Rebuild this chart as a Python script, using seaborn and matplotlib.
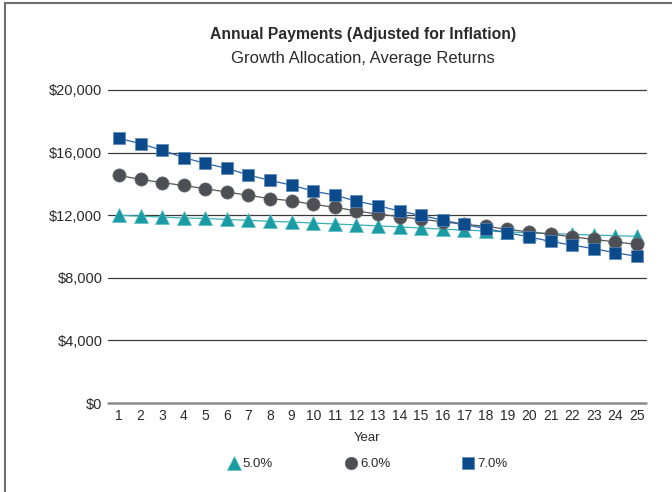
import matplotlib.pyplot as plt
import pandas as pd
import seaborn as sns
from matplotlib.lines import Line2D
from matplotlib.patches import Rectangle
from matplotlib.ticker import FuncFormatter


YEARS = list(range(1, 26))
RATE_5 = [11990, 11940, 11880, 11820, 11790, 11730, 11670, 11610, 11560, 11500,
          11440, 11380, 11320, 11250, 11180, 11110, 11050, 10990, 10930, 10880,
          10830, 10780, 10730, 10690, 10650]
RATE_6 = [14540, 14290, 14080, 13900, 13690, 13480, 13270, 13060, 12920, 12690,
          12510, 12270, 12070, 11910, 11740, 11580, 11420, 11290, 11100, 10930,
          10790, 10620, 10450, 10300, 10130]
RATE_7 = [16910, 16570, 16150, 15680, 15310, 14990, 14570, 14220, 13920, 13540,
          13280, 12900, 12610, 12260, 11990, 11680, 11410, 11140, 10880, 10620,
          10320, 10090, 9860, 9600, 9370]
RATE_LABELS = ["5.0%", "6.0%", "7.0%"]
Y_TICKS = [0, 4000, 8000, 12000, 16000, 20000]

TITLE = "Annual Payments (Adjusted for Inflation)"
SUBTITLE = "Growth Allocation, Average Returns"


def configure_style() -> None:
    sns.set_theme(style="white")
    plt.rcParams.update(
        {
            "font.size": 9.5,
            "xtick.labelsize": 10,
            "ytick.labelsize": 10.5,
            "text.color": "#2a2a2a",
            "xtick.color": "#2a2a2a",
            "ytick.color": "#2a2a2a",
        }
    )
    plt.rcParams["font.family"] = ["Liberation Sans", "DejaVu Sans"]


def main() -> None:
    configure_style()
    df = pd.DataFrame(
        {
            "Year": YEARS * 3,
            "Payment": RATE_5 + RATE_6 + RATE_7,
            "Rate": [label for label in RATE_LABELS for _ in YEARS],
        }
    )

    styles = {
        "5.0%": dict(marker="^", ms=10, mfc="#1a9ba3", mec="#5cc0c5", line="#3aaeb3"),
        "6.0%": dict(marker="o", ms=9.5, mfc="#4d4f54", mec="#6a6c70", line="#555558"),
        "7.0%": dict(marker="s", ms=9, mfc="#0b4a8b", mec="#5a86b8", line="#2a62a3"),
    }

    fig = plt.figure(figsize=(6.72, 4.92), dpi=100)
    ax = fig.add_axes([108 / 672, 1 - 403 / 492, 538 / 672, 313 / 492])

    for rate in RATE_LABELS:
        st = styles[rate]
        sns.lineplot(
            data=df[df["Rate"].eq(rate)],
            x="Year",
            y="Payment",
            color=st["line"],
            linewidth=0.9,
            marker=st["marker"],
            markersize=st["ms"],
            markerfacecolor=st["mfc"],
            markeredgecolor=st["mec"],
            markeredgewidth=0.5,
            ax=ax,
        )

    ax.set_xlim(0.49, 25.42)
    ax.set_ylim(0, 20000)
    ax.set_xticks(YEARS)
    ax.set_yticks(Y_TICKS)
    ax.yaxis.set_major_formatter(FuncFormatter(lambda v, _: f"${v:,.0f}"))
    ax.tick_params(axis="both", length=0)
    ax.tick_params(axis="x", pad=4)
    ax.tick_params(axis="y", pad=4)
    ax.set_xlabel("")
    ax.set_ylabel("")
    for spine in ax.spines.values():
        spine.set_visible(False)

    for value in Y_TICKS[1:]:
        ax.axhline(value, color="#3a3a3a", linewidth=0.9, zorder=0, clip_on=False)
    ax.axhline(0, color="#8a8a8a", linewidth=1.8, zorder=0, clip_on=False)

    fig.text(363 / 672, 1 - 35 / 492, TITLE, ha="center", va="center",
             fontsize=11.3, fontweight="bold")
    fig.text(363 / 672, 1 - 58 / 492, SUBTITLE, ha="center", va="center", fontsize=12)
    fig.text(367 / 672, 1 - 438 / 492, "Year", ha="center", va="center", fontsize=9.5)

    handles = [
        Line2D([], [], linestyle="none", marker=styles[r]["marker"],
               markersize=styles[r]["ms"] * 0.95, markerfacecolor=styles[r]["mfc"],
               markeredgecolor=styles[r]["mec"], markeredgewidth=0.5)
        for r in RATE_LABELS
    ]
    fig.legend(
        handles,
        RATE_LABELS,
        loc="center",
        bbox_to_anchor=(368 / 672, 1 - 464 / 492),
        ncol=3,
        frameon=False,
        handlelength=0.8,
        handletextpad=0.3,
        columnspacing=5.5,
        fontsize=9.5,
    )

    fig.add_artist(
        Rectangle((5 / 672, -0.1), 2, 1.1 - 3 / 492, transform=fig.transFigure,
                  fill=False, edgecolor="#6e6e6e", linewidth=1.5)
    )

    fig.savefig("out.png", dpi=100)
    plt.close(fig)


if __name__ == "__main__":
    main()
